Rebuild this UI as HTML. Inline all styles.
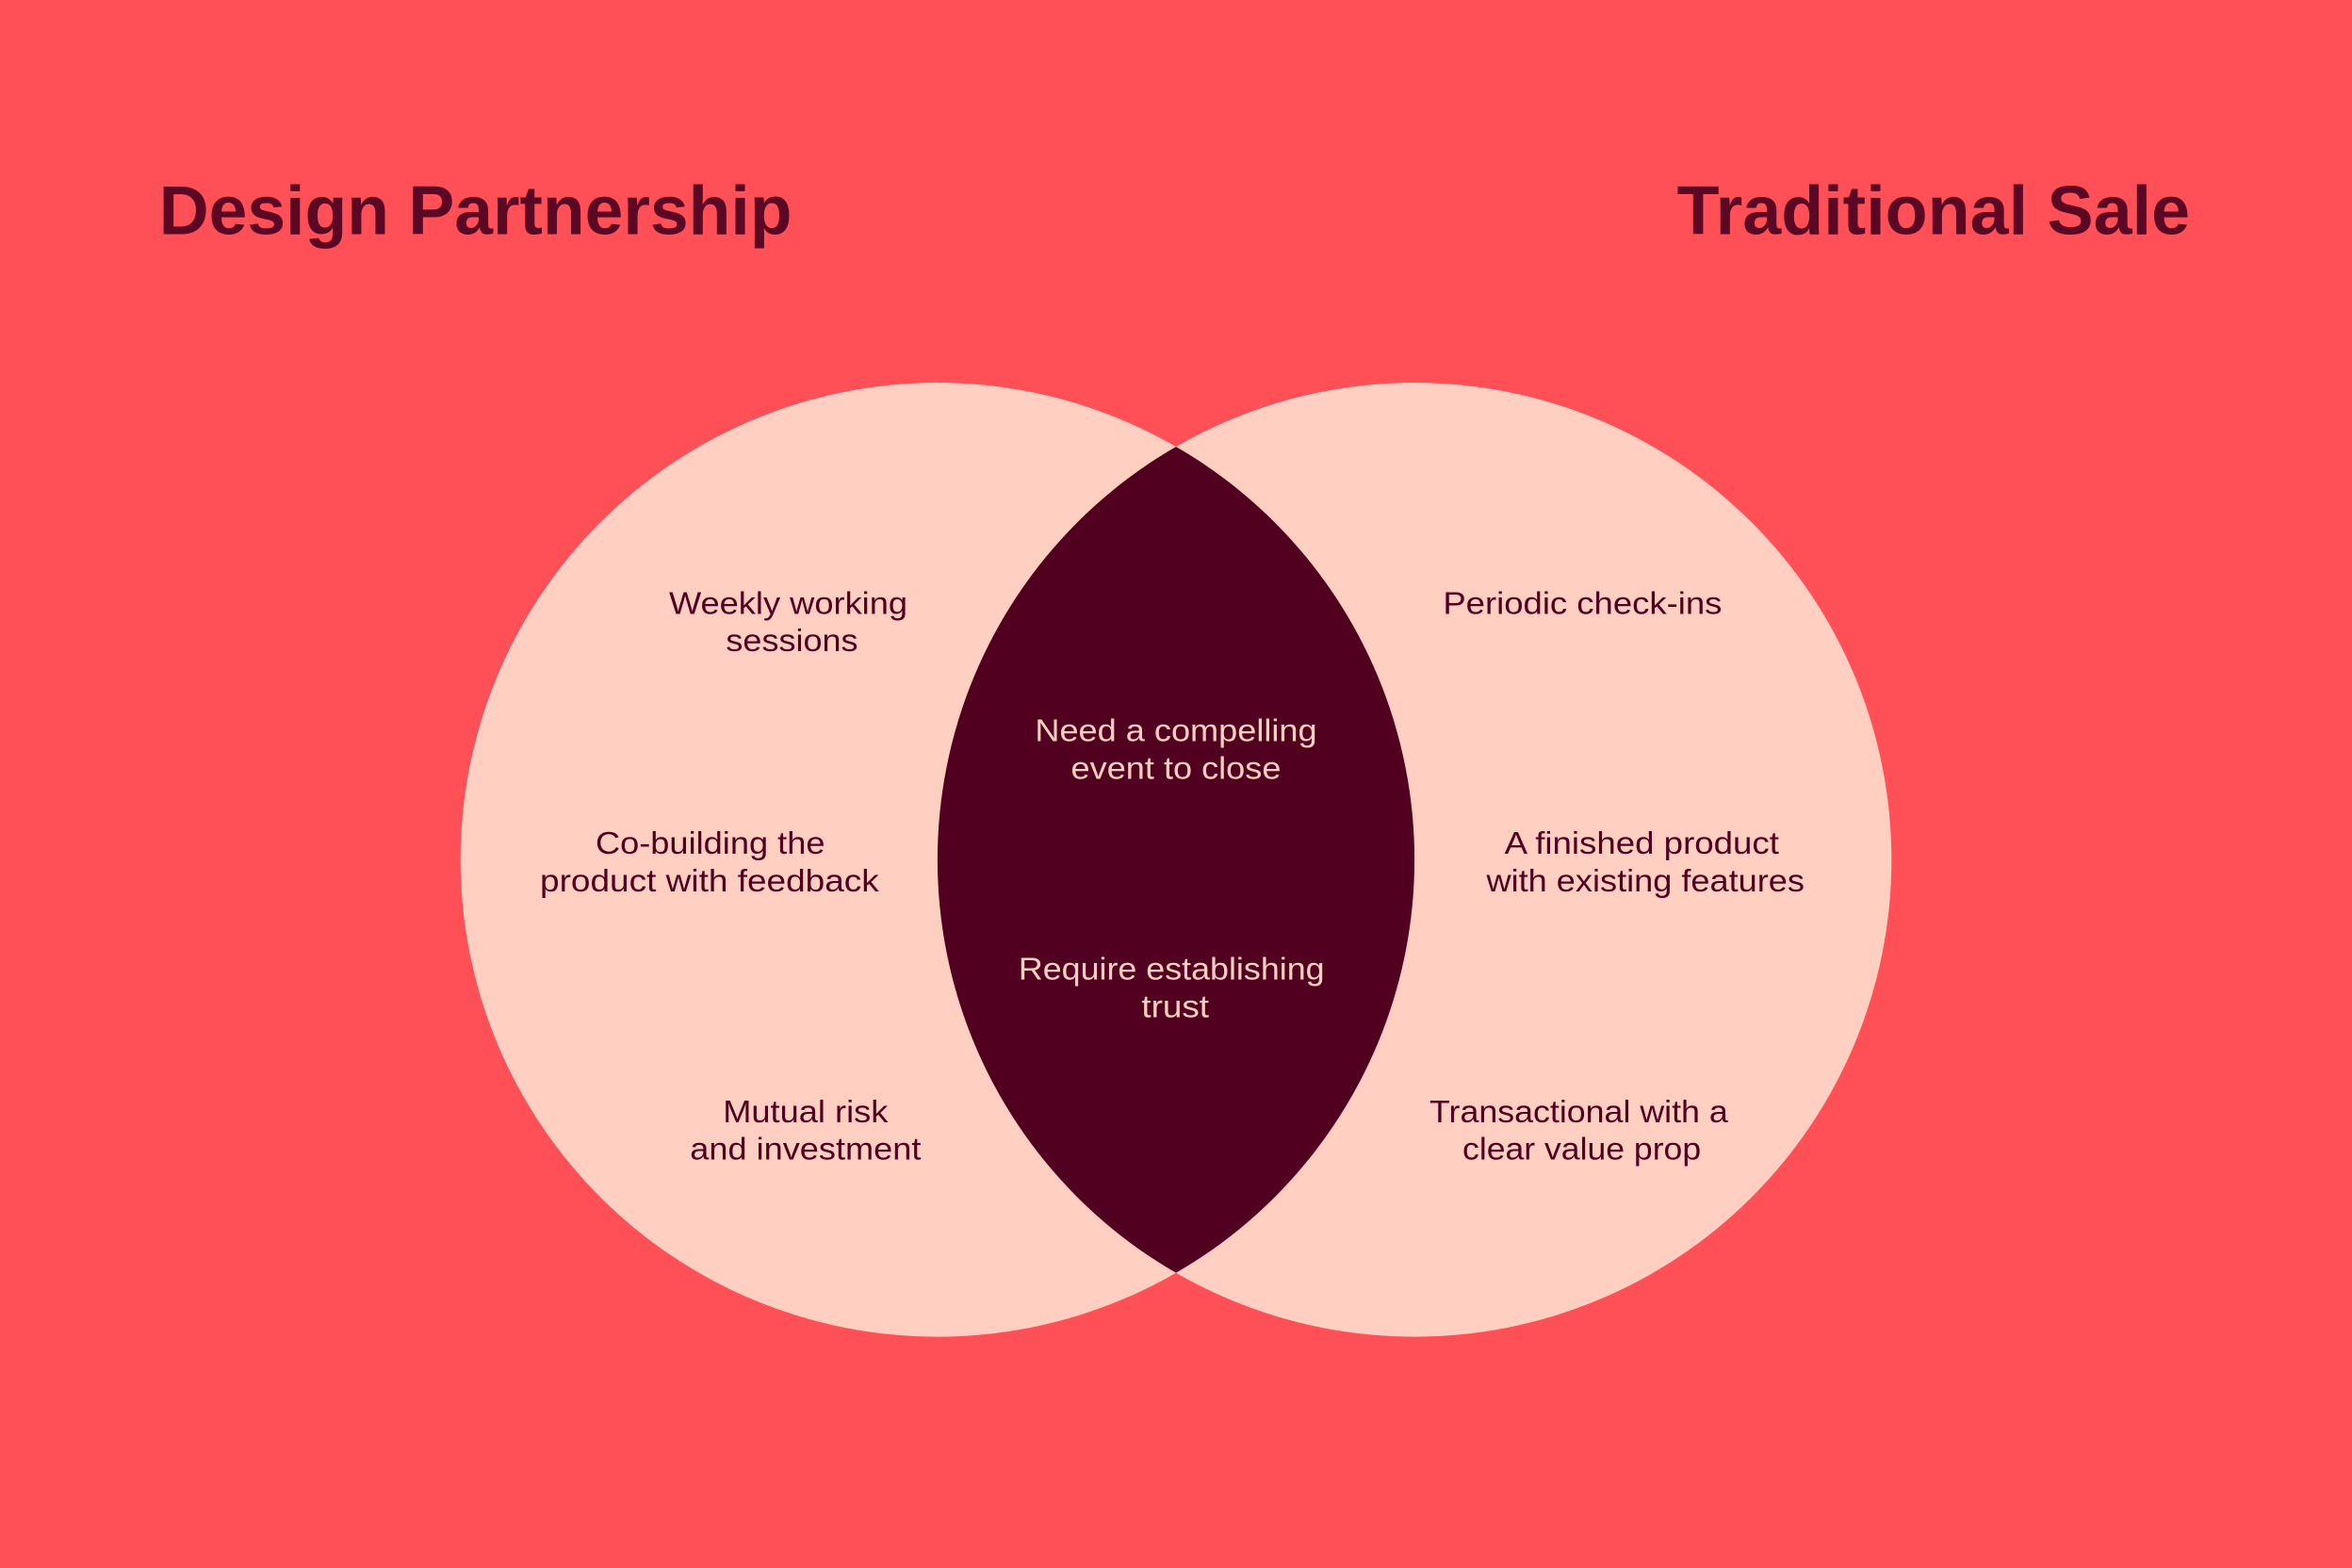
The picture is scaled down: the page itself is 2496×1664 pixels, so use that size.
<!DOCTYPE html>
<html><head><meta charset="utf-8"><style>
html,body{margin:0;padding:0;background:#FF5058;}
svg{display:block}
text{font-family:"Liberation Sans",sans-serif;}
</style></head><body>
<svg width="2496" height="1664" viewBox="0 0 1568 1045" xmlns="http://www.w3.org/2000/svg">
<defs><clipPath id="cl"><circle cx="625" cy="573" r="318"/></clipPath></defs>
<rect width="1568" height="1045" fill="#FF5058"/>
<circle cx="625" cy="573" r="318" fill="#FFCFC2"/>
<circle cx="943" cy="573" r="318" fill="#FFCFC2"/>
<circle cx="943" cy="573" r="318" fill="#520020" clip-path="url(#cl)"/>
<g font-size="46" fill="#5A0823" font-weight="bold" lengthAdjust="spacingAndGlyphs">
<text x="106" y="156" textLength="422" lengthAdjust="spacingAndGlyphs">Design Partnership</text>
<text x="1118" y="156" textLength="342" lengthAdjust="spacingAndGlyphs">Traditional Sale</text>
</g>
<g font-size="21" fill="#520020">
<text x="446" y="409" textLength="159" lengthAdjust="spacingAndGlyphs">Weekly working</text>
<text x="484" y="434" textLength="88" lengthAdjust="spacingAndGlyphs">sessions</text>
<text x="397" y="569" textLength="153" lengthAdjust="spacingAndGlyphs">Co-building the</text>
<text x="360" y="594" textLength="226" lengthAdjust="spacingAndGlyphs">product with feedback</text>
<text x="482" y="748" textLength="110" lengthAdjust="spacingAndGlyphs">Mutual risk</text>
<text x="460" y="773" textLength="154" lengthAdjust="spacingAndGlyphs">and investment</text>
<text x="962" y="409" textLength="186" lengthAdjust="spacingAndGlyphs">Periodic check-ins</text>
<text x="1003" y="569" textLength="183" lengthAdjust="spacingAndGlyphs">A finished product</text>
<text x="991" y="594" textLength="212" lengthAdjust="spacingAndGlyphs">with existing features</text>
<text x="953" y="748" textLength="199" lengthAdjust="spacingAndGlyphs">Transactional with a</text>
<text x="975" y="773" textLength="159" lengthAdjust="spacingAndGlyphs">clear value prop</text>
</g>
<g font-size="21" fill="#FFCFC2">
<text x="690" y="494" textLength="188" lengthAdjust="spacingAndGlyphs">Need a compelling</text>
<text x="714" y="519" textLength="140" lengthAdjust="spacingAndGlyphs">event to close</text>
<text x="679" y="653" textLength="204" lengthAdjust="spacingAndGlyphs">Require establishing</text>
<text x="761" y="678" textLength="45" lengthAdjust="spacingAndGlyphs">trust</text>
</g>
</svg>
</body></html>
